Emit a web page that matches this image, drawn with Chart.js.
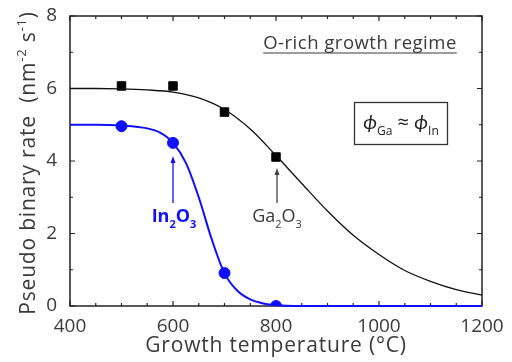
<!DOCTYPE html>
<html lang="en">
<head>
    <meta charset="UTF-8">
    <title>Pseudo binary rate</title>
    <script src="https://cdn.jsdelivr.net/npm/chart.js@4.4.1/dist/chart.umd.min.js"></script>
    <style>
        body { margin: 0; background: white; }
        #wrap { width: 512px; height: 362px; }
    </style>
</head>
<body>
    <div id="wrap"><canvas id="rateChart" width="512" height="362"></canvas></div>

    <script>
        // measured points
        const tempPoints = [500, 600, 700, 800];
        const ga2o3Rate = [6.07, 6.07, 5.35, 4.11];
        const in2o3Rate = [4.96, 4.50, 0.91, 0.0];

        // fit curves
        const gaFitTemp = [400, 450, 500, 550, 600, 650, 700, 750, 800, 850, 900, 950, 1000, 1050, 1100, 1150, 1200];
        const gaFitRate = [6.0, 6.0, 5.99, 5.96, 5.9, 5.74, 5.42, 4.88, 4.15, 3.38, 2.62, 1.95, 1.42, 0.98, 0.68, 0.45, 0.30];
        const inFitTemp = [400, 450, 500, 550, 575, 600, 625, 650, 675, 700, 725, 750, 775, 800, 850, 900, 1000, 1200];
        const inFitRate = [5.0, 5.0, 4.98, 4.9, 4.78, 4.5, 3.95, 3.0, 1.85, 0.9, 0.42, 0.18, 0.07, 0.02, 0.0, 0.0, 0.0, 0.0];

        const xTickLabels = [400, 600, 800, 1000, 1200];
        const xMinorTicks = [450, 500, 550, 650, 700, 750, 850, 900, 950, 1050, 1100, 1150];
        const yTickLabels = [0, 2, 4, 6, 8];
        const yMinorTicks = [1, 3, 5, 7];

        const FONT = "'Open Sans', Lato, sans-serif";
        const TEXT = "#3a3a3a";
        const BLUE = "#1010ff";

        function pairs(xs, ys) {
            return xs.map((x, i) => ({ x: x, y: ys[i] }));
        }

        // draws a run of [text, kind] where kind is "n", "it", "sub" or "sup"
        function richText(ctx, parts, cx, y, size, weight, color, spacing) {
            const subSize = Math.round(size * 0.62);
            ctx.letterSpacing = (spacing || 0) + "px";
            const widths = parts.map(p => {
                ctx.font = fontFor(p, size, subSize, weight);
                return ctx.measureText(p[0]).width;
            });
            let x = cx - widths.reduce((a, b) => a + b, 0) / 2;
            ctx.fillStyle = color;
            ctx.textAlign = "left";
            ctx.textBaseline = "alphabetic";
            parts.forEach((p, i) => {
                ctx.font = fontFor(p, size, subSize, weight);
                let dy = 0;
                if (p[1] === "sub") dy = size * 0.32;
                if (p[1] === "sup") dy = -size * 0.42;
                ctx.fillText(p[0], x, y + dy);
                x += widths[i];
            });
            ctx.letterSpacing = "0px";
        }

        function fontFor(p, size, subSize, weight) {
            const s = (p[1] === "n" || p[1] === "it") ? size : subSize;
            const st = p[1] === "it" ? "italic " : "";
            return st + weight + " " + s + "px " + FONT;
        }

        function arrowUp(ctx, x, y1, y2, color) {
            ctx.strokeStyle = color;
            ctx.fillStyle = color;
            ctx.lineWidth = 1.3;
            ctx.beginPath();
            ctx.moveTo(x, y1);
            ctx.lineTo(x, y2 + 4);
            ctx.stroke();
            ctx.beginPath();
            ctx.moveTo(x, y2);
            ctx.lineTo(x - 2.5, y2 + 7);
            ctx.lineTo(x + 2.5, y2 + 7);
            ctx.closePath();
            ctx.fill();
        }

        const framePlugin = {
            id: "frame",
            beforeDatasetsDraw(chart) {
                const ctx = chart.ctx;
                const a = chart.chartArea;
                const xs = chart.scales.x, ys = chart.scales.y;
                ctx.save();
                ctx.strokeStyle = "#222";
                ctx.lineWidth = 1.5;
                ctx.strokeRect(a.left, a.top, a.right - a.left, a.bottom - a.top);
                ctx.lineWidth = 1.2;
                ctx.beginPath();
                xTickLabels.concat(xMinorTicks).forEach(v => {
                    const len = xTickLabels.includes(v) ? 5 : 3;
                    const px = xs.getPixelForValue(v);
                    ctx.moveTo(px, a.bottom); ctx.lineTo(px, a.bottom - len);
                    ctx.moveTo(px, a.top); ctx.lineTo(px, a.top + len);
                });
                yTickLabels.concat(yMinorTicks).forEach(v => {
                    const len = yTickLabels.includes(v) ? 5 : 3;
                    const py = ys.getPixelForValue(v);
                    ctx.moveTo(a.left, py); ctx.lineTo(a.left + len, py);
                    ctx.moveTo(a.right, py); ctx.lineTo(a.right - len, py);
                });
                ctx.stroke();
                ctx.restore();
            },
            afterDraw(chart) {
                const ctx = chart.ctx;
                ctx.save();

                // y axis title
                ctx.translate(28, 163);
                ctx.rotate(-Math.PI / 2);
                richText(ctx, [["Pseudo binary rate  (nm", "n"], ["-2", "sup"], [" s", "n"], ["-1", "sup"], [")", "n"]],
                    0, 7, 21, "normal", TEXT, 0.8);
                ctx.setTransform(1, 0, 0, 1, 0, 0);

                // x axis title
                richText(ctx, [["Growth temperature (°C)", "n"]], 276, 352, 21, "normal", TEXT, 0.8);

                // regime label, underlined
                richText(ctx, [["O-rich growth regime", "n"]], 360, 49, 18.5, "normal", TEXT, 0.5);
                ctx.font = "normal 18.5px " + FONT;
                ctx.letterSpacing = "0.5px";
                const w = ctx.measureText("O-rich growth regime").width;
                ctx.letterSpacing = "0px";
                ctx.strokeStyle = TEXT;
                ctx.lineWidth = 1.2;
                ctx.beginPath();
                ctx.moveTo(360 - w / 2, 53);
                ctx.lineTo(360 + w / 2, 53);
                ctx.stroke();

                // flux box
                ctx.strokeStyle = "#333";
                ctx.lineWidth = 1.3;
                ctx.strokeRect(354.5, 102.5, 93, 42);
                richText(ctx, [["\u03d5", "it"], ["Ga", "sub"], [" \u2248 ", "n"], ["\u03d5", "it"], ["In", "sub"]],
                    401, 129, 20, "normal", "#222");

                // arrows and compound labels
                arrowUp(ctx, 173, 203, 156, BLUE);
                richText(ctx, [["In", "n"], ["2", "sub"], ["O", "n"], ["3", "sub"]], 174, 222, 18, "bold", BLUE);
                arrowUp(ctx, 277, 203, 168, "#444");
                richText(ctx, [["Ga", "n"], ["2", "sub"], ["O", "n"], ["3", "sub"]], 277, 222, 18, "normal", TEXT);

                ctx.restore();
            }
        };

        document.addEventListener("DOMContentLoaded", () => {
            renderChart();
        });

        function renderChart() {
            const ctx = document.getElementById("rateChart").getContext("2d");
            new Chart(ctx, {
                type: "scatter",
                data: {
                    datasets: [
                        {
                            data: pairs(gaFitTemp, gaFitRate),
                            showLine: true,
                            borderColor: "#111",
                            borderWidth: 1.3,
                            pointRadius: 0,
                            cubicInterpolationMode: "monotone",
                            clip: 2
                        },
                        {
                            data: pairs(inFitTemp, inFitRate),
                            showLine: true,
                            borderColor: BLUE,
                            borderWidth: 2,
                            pointRadius: 0,
                            cubicInterpolationMode: "monotone",
                            clip: 2
                        },
                        {
                            data: pairs(tempPoints, ga2o3Rate),
                            pointStyle: "rect",
                            pointRadius: 6,
                            backgroundColor: "#000",
                            borderColor: "#000",
                            clip: 0
                        },
                        {
                            data: pairs(tempPoints, in2o3Rate),
                            pointStyle: "circle",
                            pointRadius: 5.5,
                            backgroundColor: BLUE,
                            borderColor: BLUE,
                            clip: 0
                        }
                    ]
                },
                plugins: [framePlugin],
                options: {
                    responsive: false,
                    animation: false,
                    layout: { padding: { top: 16, right: 30, left: 0, bottom: 0 } },
                    plugins: { legend: { display: false }, tooltip: { enabled: false } },
                    scales: {
                        x: {
                            type: "linear",
                            min: 400,
                            max: 1200,
                            grid: { display: false },
                            border: { display: false },
                            ticks: {
                                stepSize: 200, color: TEXT, padding: 1, maxRotation: 0,
                                font: { family: FONT, size: 19 },
                                callback: v => String(v)
                            },
                            afterFit(scale) {
                                scale.height = 56;
                                scale.paddingLeft = 0;
                                scale.paddingRight = 0;
                            }
                        },
                        y: {
                            min: 0,
                            max: 8,
                            grid: { display: false },
                            border: { display: false },
                            ticks: { stepSize: 2, color: TEXT, padding: 5, font: { family: FONT, size: 19 } },
                            afterFit(scale) {
                                scale.width = 70;
                                scale.paddingTop = 0;
                                scale.paddingBottom = 0;
                            }
                        }
                    }
                }
            });
        }
    </script>
</body>
</html>
